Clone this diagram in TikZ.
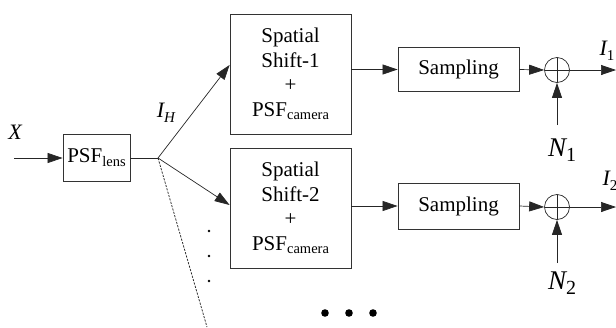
\documentclass[tikz,border=0pt]{standalone}
\usepackage{fontspec}
\setmainfont{Liberation Serif}
\usetikzlibrary{arrows.meta,calc}
\newcommand{\mysub}[1]{\raisebox{-0.35ex}{\fontsize{14.5}{14.5}\selectfont #1}}
\newcommand{\mysubm}[1]{\raisebox{-0.45ex}{\fontsize{15}{15}\selectfont #1}}
\begin{document}
\begin{tikzpicture}[x=1pt,y=-1pt,
  box/.style={draw=black!80, line width=0.8pt, inner sep=0pt, font=\fontsize{21}{24.5}\selectfont, align=center},
  arr/.style={draw=black!85, line width=0.7pt, -{Triangle[length=15pt,width=10pt]}},
  ln/.style={draw=black!85, line width=0.7pt},
  lbl/.style={font=\fontsize{22}{22}\selectfont\itshape, inner sep=0pt},
  nlbl/.style={font=\fontsize{27}{27}\selectfont\itshape, inner sep=0pt},
  sum/.style={circle, draw=black!85, line width=0.7pt, minimum size=25pt, inner sep=0pt,
    path picture={\draw[black!85, line width=0.7pt] (path picture bounding box.north) -- (path picture bounding box.south)
      (path picture bounding box.west) -- (path picture bounding box.east);}},
  bigdot/.style={fill=black},
]
\useasboundingbox (0,0) rectangle (616,327);
\clip (0,0) rectangle (616,327);

% nodes
\node[box, minimum width=67pt, minimum height=47pt] (lens) at (96.5,157.5) {PSF\mysub{lens}};
\node[box, minimum width=121pt, minimum height=120pt] (s1) at (290.5,74) {Spatial\\Shift-1\\+\\PSF\mysub{camera}};
\node[box, minimum width=121pt, minimum height=120pt] (s2) at (290.5,208) {Spatial\\Shift-2\\+\\PSF\mysub{camera}};
\node[box, minimum width=121pt, minimum height=44pt] (sa1) at (458.5,69.5) {Sampling};
\node[box, minimum width=121pt, minimum height=46pt] (sa2) at (458.5,206) {Sampling};
\node[sum] (c1) at (557,70) {};
\node[sum] (c2) at (557,207) {};

% labels
\node[lbl] (xl) at (15,132) {X};
\node[lbl] (ih) at (166,113) {I\mysubm{H}};
\node[lbl] (i1) at (607,51) {I\mysubm{\upshape 1}};
\node[lbl] (i2) at (610,181) {I\mysubm{\upshape 2}};
\node[nlbl] (n1) at (562,150) {N\raisebox{-0.35ex}{\upshape\fontsize{20}{20}\selectfont 1}};
\node[nlbl] (n2) at (562,283) {N\raisebox{-0.35ex}{\upshape\fontsize{20}{20}\selectfont 2}};

% coordinates
\coordinate (xin) at (14,158);
\coordinate (j) at (158,158);
\coordinate (dend) at (207,327);
\coordinate (o1) at (616,70);
\coordinate (o2) at (616,207);
\coordinate (nb1) at (557,125);
\coordinate (nb2) at (557,263);

% connectors
\draw[arr] (xin) -- (xin -| lens.west);
\draw[ln] (j -| lens.east) -- (j);
\draw[arr] (j) -- ([yshift=9pt]s1.west);
\draw[arr] (j) -- ([yshift=3pt]s2.west);
\draw[ln, line width=0.75pt, dash pattern=on 2.2pt off 1.3pt] (j) -- (dend);
\draw[arr] (s1.east |- sa1.west) -- (sa1.west);
\draw[arr] (s2.east |- sa2.west) -- (sa2.west);
\draw[arr] (sa1.east) -- (c1.west);
\draw[arr] (sa2.east) -- (c2.west);
\draw[arr] (c1.east) -- (o1);
\draw[arr] (c2.east) -- (o2);
\draw[arr] (nb1) -- (c1.south);
\draw[arr] (nb2) -- (c2.south);

% dots
\fill (209,231) circle (1.4pt);
\fill (209,256) circle (1.4pt);
\fill (209,281) circle (1.4pt);
\fill[bigdot] (325,313) circle (3.8pt);
\fill[bigdot] (349,313) circle (3.8pt);
\fill[bigdot] (373,313) circle (3.8pt);
\end{tikzpicture}
\end{document}
